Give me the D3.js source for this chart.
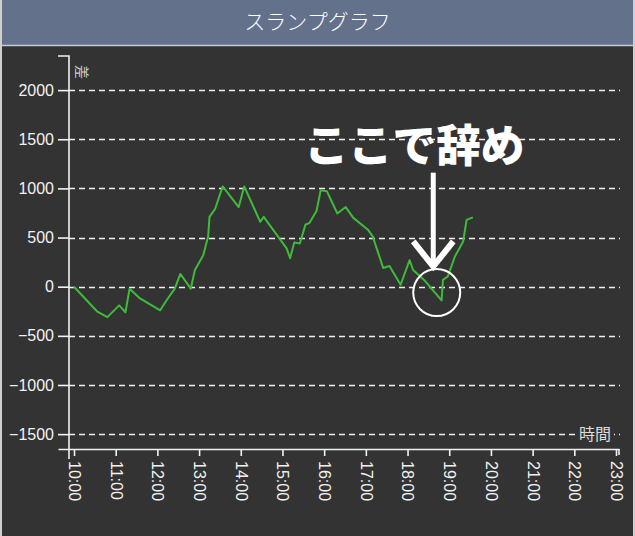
<!DOCTYPE html>
<html>
<head>
<meta charset="utf-8">
<script src="https://cdn.jsdelivr.net/npm/d3@7"></script>
<style>
  html, body { margin: 0; padding: 0; background: #333333; }
  svg { display: block; }
</style>
</head>
<body>
<svg id="chart" width="635" height="536"></svg>
<script>
// ---- data ----
const title = "スランプグラフ";
const times = ["10:00","10:33","10:48","11:05","11:14","11:20","11:35","12:04","12:13","12:25","12:33","12:48","12:54","13:06","13:13","13:15","13:23","13:34","13:57","14:05","14:28","14:33","15:06","15:11","15:17","15:25","15:33","15:39","15:49","15:55","16:04","16:19","16:31","16:42","17:03","17:10","17:25","17:34","17:50","18:03","18:08","18:25","18:49","18:51","18:58","19:08","19:20","19:25","19:34"];
const values = [0,-250,-310,-190,-260,-20,-120,-240,-140,-20,130,-20,170,320,510,710,790,1020,810,1020,660,710,390,290,450,440,630,650,770,980,970,745,810,700,580,510,190,210,20,270,170,60,-140,70,105,305,460,680,705];
const yTicks = [2000,1500,1000,500,0,-500,-1000,-1500];
const xTicks = ["10:00","11:00","12:00","13:00","14:00","15:00","16:00","17:00","18:00","19:00","20:00","21:00","22:00","23:00"];
const yLabel = "差";
const xLabel = "時間";
const annotation = "ここで辞め";
const annotationTime = "18:37";

// ---- helpers ----
const toH = s => { const [h, m] = s.split(":").map(Number); return h + m / 60; };
const data = times.map((t, i) => ({ h: toH(t), v: values[i] }));

const svg = d3.select("#chart");
const W = 635, H = 536;

// backgrounds
svg.append("rect").attr("x", 0).attr("y", 0).attr("width", W).attr("height", H).attr("fill", "#333333");
svg.append("rect").attr("x", 0).attr("y", 0).attr("width", W).attr("height", 45).attr("fill", "#64718b");
svg.append("line").attr("x1", 0).attr("x2", W).attr("y1", 45.5).attr("y2", 45.5).attr("stroke", "#c8ccd4").attr("stroke-width", 1.5);
svg.append("rect").attr("x", 0).attr("y", 0).attr("width", 2).attr("height", H).attr("fill", "#cfcfcf");
svg.append("rect").attr("x", W - 2).attr("y", 0).attr("width", 2).attr("height", H).attr("fill", "#cfcfcf");

svg.append("text").attr("x", W / 2).attr("y", 29)
  .attr("text-anchor", "middle")
  .attr("font-family", "'Noto Sans CJK JP', 'Noto Sans', sans-serif")
  .attr("font-size", 21).attr("font-weight", 300)
  .attr("fill", "#ffffff").text(title);

// ---- scales ----
const x = d3.scaleLinear().domain([9.616, 23.072]).range([58, 619]);
const y = d3.scaleLinear().domain([-1753, 2347]).range([459, 56]);
const axisX = 69, axisY = 449;
const fontNum = "'Liberation Sans', Arial, Helvetica, sans-serif";
const axisColor = "#f2f2f2";

// grid
svg.append("g").selectAll("line").data(yTicks).join("line")
  .attr("x1", axisX).attr("x2", 620)
  .attr("y1", d => Math.round(y(d)) + 0.5).attr("y2", d => Math.round(y(d)) + 0.5)
  .attr("stroke", "#f0f0f0").attr("stroke-width", 1.6)
  .attr("stroke-dasharray", "6,4");

// x label with backing
const xl = svg.append("g");
xl.append("rect").attr("x", 576).attr("y", y(-1500) - 9).attr("width", 38).attr("height", 18).attr("fill", "#333333");
xl.append("text").attr("x", 595).attr("y", y(-1500) + 6)
  .attr("text-anchor", "middle")
  .attr("font-family", "'Noto Sans CJK JP', sans-serif")
  .attr("font-size", 16).attr("fill", "#dddddd").text(xLabel);

// y axis
const gy = svg.append("g").attr("transform", `translate(${axisX},0)`)
  .call(d3.axisLeft(y).tickValues(yTicks).tickFormat(d3.format("d"))
    .tickSize(11).tickSizeOuter(0).tickPadding(4));
gy.select(".domain").remove();
gy.selectAll(".tick line").attr("stroke", axisColor).attr("stroke-width", 1.6);
gy.selectAll(".tick text").attr("fill", "#f2f2f2").attr("font-size", 16).attr("font-family", fontNum);
gy.append("path").attr("d", `M-11,${y.range()[1]}H0V${y.range()[0]}`)
  .attr("fill", "none").attr("stroke", axisColor).attr("stroke-width", 1.6);

svg.append("text")
  .attr("transform", `translate(82,72) rotate(90)`)
  .attr("text-anchor", "middle").attr("dy", "0.35em")
  .attr("font-family", "'Noto Sans CJK JP', sans-serif")
  .attr("font-size", 14).attr("fill", "#cccccc").text(yLabel);

// x axis
const gx = svg.append("g").attr("transform", `translate(0,${axisY})`)
  .call(d3.axisBottom(x).tickValues(xTicks.map(toH)).tickSize(7).tickSizeOuter(0)
    .tickFormat((d, i) => xTicks[i]));
gx.select(".domain").attr("stroke", axisColor).attr("stroke-width", 1.6);
gx.append("path").attr("d", `M${x.range()[1]},0V6`).attr("stroke", axisColor).attr("stroke-width", 1.6);
gx.selectAll(".tick line").attr("stroke", axisColor).attr("stroke-width", 1.6);
gx.selectAll(".tick text")
  .attr("transform", "rotate(90)")
  .attr("x", 12).attr("y", 0).attr("dy", "0.35em")
  .attr("text-anchor", "start")
  .attr("fill", "#f2f2f2").attr("font-size", 16).attr("font-family", fontNum);

// line
svg.append("path").datum(data)
  .attr("fill", "none").attr("stroke", "#3fbb3a").attr("stroke-width", 2)
  .attr("stroke-linejoin", "round")
  .attr("d", d3.line().x(d => x(d.h)).y(d => y(d.v)));

// annotation
const ah = toH(annotationTime);
const ax = x(ah);
svg.append("text").attr("x", x(toH("18:10"))).attr("y", y(1270))
  .attr("text-anchor", "middle")
  .attr("font-family", "'Noto Sans CJK JP', sans-serif")
  .attr("font-size", 44).attr("font-weight", 900)
  .attr("fill", "#ffffff").text(annotation);
svg.append("line").attr("x1", ax).attr("x2", ax).attr("y1", y(1160)).attr("y2", y(215))
  .attr("stroke", "#ffffff").attr("stroke-width", 5);
svg.append("path")
  .attr("d", `M${ax - 20},${y(460)}L${ax},${y(205)}L${ax + 20},${y(460)}`)
  .attr("fill", "none").attr("stroke", "#ffffff").attr("stroke-width", 6)
  .attr("stroke-linejoin", "miter");
svg.append("circle").attr("cx", x(toH("18:42"))).attr("cy", y(-60)).attr("r", 23.5)
  .attr("fill", "none").attr("stroke", "#ffffff").attr("stroke-width", 2);
</script>
</body>
</html>
